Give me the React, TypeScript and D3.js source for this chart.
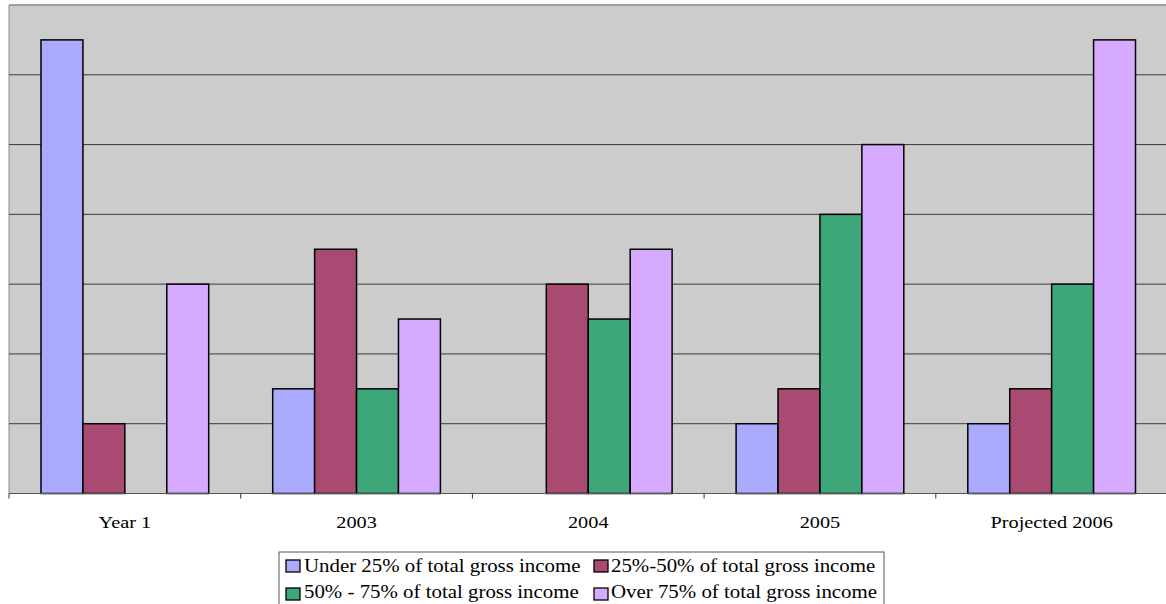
import React from "react";
import * as d3 from "d3";

const categories = ["Year 1", "2003", "2004", "2005", "Projected 2006"];
const seriesNames = [
  "Under 25% of total gross income",
  "25%-50% of total gross income",
  "50% - 75% of total gross income",
  "Over 75% of total gross income",
];
const under25 = [6.5, 1.5, 0, 1, 1];
const from25to50 = [1, 3.5, 3, 1.5, 1.5];
const from50to75 = [0, 1.5, 2.5, 4, 3];
const over75 = [3, 2.5, 3.5, 5, 6.5];
const seriesColors = ["#aaaaff", "#a94a73", "#3ea77a", "#d6abff"];
const gridValues = [1, 2, 3, 4, 5, 6, 7];

const W = 1166;
const H = 604;
const plot = { left: 9, top: 5, right: 1167.5, bottom: 493.5 };
// text in this chart is set slightly wide
const stretch = 1.16;

export default function App() {
  const seriesValues = [under25, from25to50, from50to75, over75];
  const x0 = d3
    .scaleBand<string>()
    .domain(categories)
    .range([plot.left, plot.right])
    .paddingInner(0)
    .paddingOuter(0);
  const groupPad = 32;
  const x1 = d3
    .scaleBand<number>()
    .domain([0, 1, 2, 3])
    .range([groupPad, x0.bandwidth() - groupPad]);
  const y = d3.scaleLinear().domain([0, 7]).range([plot.bottom, plot.top]);

  const font = "'Liberation Serif', 'Times New Roman', serif";

  const legendX = 279;
  const legendY = 552;
  const legendW = 605;
  const legendH = 60;
  const swatchX = [286, 594];
  const textX = [304, 611];
  const rowMid = [566, 594];
  const rowBase = [572, 598];

  return (
    <svg
      width={W}
      height={H}
      style={{ position: "absolute", left: 0, top: 0, display: "block" }}
    >
      <rect x={0} y={0} width={W} height={H} fill="#ffffff" />
      <rect
        x={plot.left}
        y={plot.top}
        width={plot.right - plot.left}
        height={plot.bottom - plot.top}
        fill="#cccccc"
      />
      {/* plot frame */}
      <line x1={plot.left} x2={plot.right} y1={plot.top} y2={plot.top} stroke="#9a9a9a" strokeWidth={1.5} />
      <line x1={plot.left} x2={plot.left} y1={plot.top} y2={plot.bottom} stroke="#8a8a8a" strokeWidth={1} />
      {gridValues.map((v) => (
        <line
          key={v}
          x1={plot.left}
          x2={plot.right}
          y1={y(v)}
          y2={y(v)}
          stroke={v === 7 ? "#9a9a9a" : "#3a3a3a"}
          strokeWidth={v === 7 ? 1.5 : 1}
        />
      ))}
      {categories.map((c, ci) => (
        <g key={c} transform={`translate(${x0(c)},0)`}>
          {seriesValues.map((vals, si) =>
            vals[ci] > 0 ? (
              <rect
                key={si}
                x={x1(si)}
                y={y(vals[ci])}
                width={x1.bandwidth()}
                height={y(0) - y(vals[ci])}
                fill={seriesColors[si]}
                stroke="#000000"
                strokeWidth={1.5}
              />
            ) : null
          )}
        </g>
      ))}
      {/* category axis */}
      <line x1={plot.left} x2={plot.right} y1={plot.bottom} y2={plot.bottom} stroke="#555555" strokeWidth={1.2} />
      {categories.map((c) => (
        <line
          key={"t" + c}
          x1={x0(c)}
          x2={x0(c)}
          y1={plot.bottom}
          y2={plot.bottom + 5}
          stroke="#333333"
          strokeWidth={1}
        />
      ))}
      {categories.map((c) => (
        <text
          key={"l" + c}
          transform={`translate(${(x0(c) as number) + x0.bandwidth() / 2},528) scale(${stretch},1)`}
          textAnchor="middle"
          fontFamily={font}
          fontSize={17.5}
          fill="#000000"
        >
          {c}
        </text>
      ))}
      {/* legend */}
      <rect
        x={legendX}
        y={legendY}
        width={legendW}
        height={legendH}
        fill="#ffffff"
        stroke="#555555"
        strokeWidth={1}
      />
      {seriesNames.map((name, i) => {
        const col = i % 2;
        const row = Math.floor(i / 2);
        return (
          <g key={name}>
            <rect
              x={swatchX[col]}
              y={rowMid[row] - 6}
              width={14}
              height={12}
              fill={seriesColors[i]}
              stroke="#000000"
              strokeWidth={1.3}
            />
            <text
              transform={`translate(${textX[col]},${rowBase[row]}) scale(${stretch},1)`}
              fontFamily={font}
              fontSize={18}
              fill="#000000"
            >
              {name}
            </text>
          </g>
        );
      })}
    </svg>
  );
}
